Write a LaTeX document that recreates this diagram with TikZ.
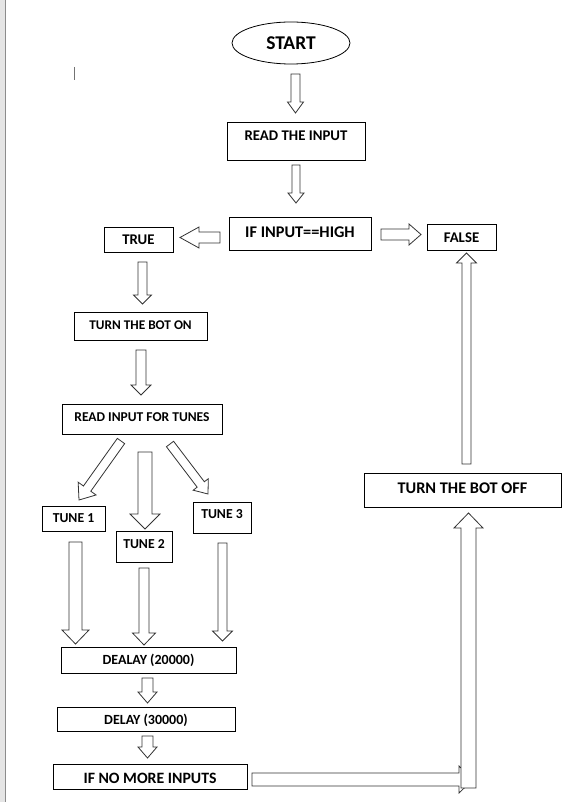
\documentclass[tikz,border=0pt]{standalone}
\usepackage{fontspec}
\setmainfont{Carlito}
\usetikzlibrary{calc,shapes.geometric}
\newcommand{\fsz}[1]{\fontsize{#1}{#1}\selectfont\bfseries}
\newcommand{\barrow}[5]{%
  \coordinate (hb) at ($(#2)!#5!(#1)$);
  \draw[blockar] ($(#1)!#3!90:(#2)$) -- ($(hb)!#3!-90:(#1)$) -- ($(hb)!#4!-90:(#1)$) -- (#2)
     -- ($(hb)!#4!90:(#1)$) -- ($(hb)!#3!90:(#1)$) -- ($(#1)!#3!-90:(#2)$) -- cycle;}
\tikzset{
  bx/.style={draw=black, line width=0.9pt, inner sep=0pt, rectangle},
  blockar/.style={draw=black!80, fill=white, line width=0.8pt, line join=miter},
}
\begin{document}
\begin{tikzpicture}[x=1pt,y=-1pt]
\useasboundingbox (0,0) rectangle (574,802);
% window edge
\fill[black!10] (0,0) rectangle (5,802);
\draw[black!45, line width=1pt] (5.5,0) -- (5.5,802);
\draw[black!55, line width=0.8pt] (74.5,67) -- (74.5,80);

% nodes
\node[draw=black, line width=0.8pt, ellipse, inner sep=0pt, minimum width=118, minimum height=42,
      font=\fsz{19.5}, text height=12.5, text depth=0] (start) at (291,43) {START};
\node[bx, minimum width=138, minimum height=38, font=\fsz{14.8}, text height=9.5, text depth=10] (read) at (296,141) {READ THE INPUT};
\node[bx, minimum width=142, minimum height=33, font=\fsz{16.3}, text height=10.5, text depth=3] (ifh) at (300,233.5) {IF INPUT==HIGH};
\node[bx, minimum width=69, minimum height=25, font=\fsz{14.8}, text height=9.5, text depth=0] (true) at (138.5,239.5) {TRUE};
\node[bx, minimum width=69, minimum height=26, font=\fsz{14.8}, text height=11.5, text depth=0] (false) at (461.5,237) {FALSE};
\node[bx, minimum width=133, minimum height=28, font=\fsz{13.3}, text height=8.6, text depth=2] (boton) at (140.5,326) {TURN THE BOT ON};
\node[bx, minimum width=160, minimum height=30, font=\fsz{13.5}, text height=8.7, text depth=4] (tunes) at (142,419) {READ INPUT FOR TUNES};
\node[bx, minimum width=63, minimum height=25, font=\fsz{13.7}, text height=8.8, text depth=1] (tune1) at (73.5,518.5) {TUNE 1};
\node[bx, minimum width=56, minimum height=31, font=\fsz{13.7}, text height=8.8, text depth=5] (tune2) at (144,546.5) {TUNE 2};
\node[bx, minimum width=58, minimum height=31, font=\fsz{13.7}, text height=8.8, text depth=7] (tune3) at (222,517.5) {TUNE 3};
\node[bx, minimum width=197, minimum height=34, font=\fsz{16.3}, text height=10.5, text depth=4] (botoff) at (462.5,490) {TURN THE BOT OFF};
\node[bx, minimum width=175, minimum height=26, font=\fsz{14}, text height=9, text depth=0] (delay1) at (148.5,660) {DEALAY (20000)};
\node[bx, minimum width=178, minimum height=24, font=\fsz{14}, text height=11, text depth=0] (delay2) at (146,719) {DELAY (30000)};
\node[bx, minimum width=194, minimum height=25, font=\fsz{15.8}, text height=13.2, text depth=0] (nomore) at (150,776.5) {IF NO MORE INPUTS};

% arrow end points
\coordinate (a1s) at (295.5,74);   \coordinate (a1e) at (295.5,113);
\coordinate (a2s) at (296,165);    \coordinate (a2e) at (296,203);
\coordinate (als) at (220,237.5);  \coordinate (ale) at (180,237.5);
\coordinate (ars) at (381,234.5);  \coordinate (are) at (421,234.5);
\coordinate (afs) at (466.5,464);  \coordinate (afe) at (466.5,253);
\coordinate (ats) at (142.5,262);  \coordinate (ate) at (142.5,304);
\coordinate (aos) at (141,350);    \coordinate (aoe) at (141,395);
\coordinate (dls) at (121,441);    \coordinate (dle) at (79,500);
\coordinate (dms) at (145,452);    \coordinate (dme) at (145,529);
\coordinate (drs) at (170,444);    \coordinate (dre) at (208,494);
\coordinate (t1s) at (75.5,542);   \coordinate (t1e) at (75.5,644);
\coordinate (t2s) at (144,568);    \coordinate (t2e) at (144,645);
\coordinate (t3s) at (222.5,543);  \coordinate (t3e) at (222.5,641);
\coordinate (e1s) at (147.5,678);  \coordinate (e1e) at (147.5,703);
\coordinate (e2s) at (147.5,736);  \coordinate (e2e) at (147.5,758);
\coordinate (hs) at (252,779.5);   \coordinate (he) at (473,779.5);
\coordinate (vs) at (468.5,788);   \coordinate (ve) at (468.5,513);

% block arrows
\barrow{a1s}{a1e}{4.5pt}{8pt}{11pt}
\barrow{a2s}{a2e}{4pt}{8pt}{10pt}
\barrow{als}{ale}{5.5pt}{10.5pt}{19pt}
\barrow{ars}{are}{5.5pt}{10.5pt}{12pt}
\barrow{afs}{afe}{4.5pt}{10pt}{10pt}
\barrow{ats}{ate}{4.5pt}{9pt}{9pt}
\barrow{aos}{aoe}{5pt}{10pt}{10pt}
\barrow{dls}{dle}{4.5pt}{11pt}{14pt}
\barrow{dms}{dme}{7pt}{15pt}{15pt}
\barrow{drs}{dre}{4.5pt}{9.5pt}{12pt}
\barrow{t1s}{t1e}{6.5pt}{13.5pt}{14pt}
\barrow{t2s}{t2e}{5pt}{11.5pt}{12pt}
\barrow{t3s}{t3e}{4.5pt}{10pt}{10pt}
\barrow{e1s}{e1e}{5.5pt}{9.5pt}{11pt}
\barrow{e2s}{e2e}{5.5pt}{9.5pt}{11pt}
\barrow{hs}{he}{6.5pt}{13.5pt}{14pt}
\barrow{vs}{ve}{7.5pt}{14.5pt}{15pt}
\end{tikzpicture}
\end{document}
